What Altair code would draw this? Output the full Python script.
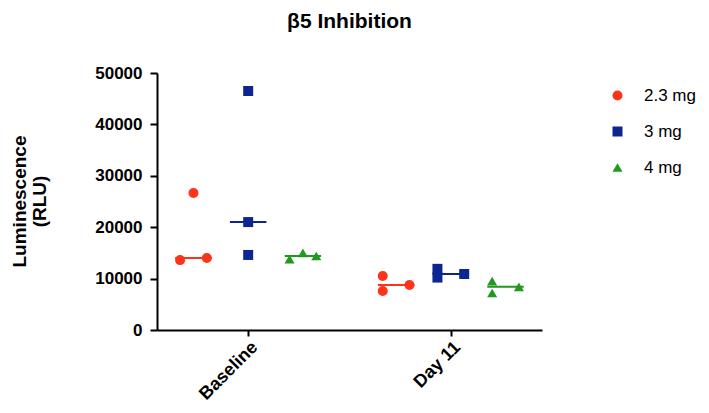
import altair as alt
import pandas as pd
import numpy as np

# ---- data ----
timepoints = ["Baseline", "Day 11"]
doses = ["2.3 mg", "3 mg", "4 mg"]
colors = ["#FF3319", "#0C2590", "#1F991F"]
shapes = ["circle", "square", "triangle-up"]

baseline_23 = [26650, 13600, 14000]
baseline_3 = [46500, 21000, 14600]
baseline_4 = [13800, 15000, 14400]
day11_23 = [10500, 7600, 8750]
day11_3 = [11900, 10200, 10900]
day11_4 = [9500, 7200, 8400]

# horizontal scatter slot of each replicate within its column (-1, 0, +1)
baseline_23_slot = [0, -1, 1]
baseline_3_slot = [0, 0, 0]
baseline_4_slot = [-1, 0, 1]
day11_23_slot = [-1, -1, 1]
day11_3_slot = [-1, -1, 1]
day11_4_slot = [-1, -1, 1]

series = [
    ("Baseline", "2.3 mg", baseline_23, baseline_23_slot),
    ("Baseline", "3 mg", baseline_3, baseline_3_slot),
    ("Baseline", "4 mg", baseline_4, baseline_4_slot),
    ("Day 11", "2.3 mg", day11_23, day11_23_slot),
    ("Day 11", "3 mg", day11_3, day11_3_slot),
    ("Day 11", "4 mg", day11_4, day11_4_slot),
]

DOSE_SHIFT = 0.27
SLOT_STEP = 0.066
HALF_MED = 0.09

rows, med_rows = [], []
for tp, dose, vals, slots in series:
    center = timepoints.index(tp) + 1 + (doses.index(dose) - 1) * DOSE_SHIFT
    for v, s in zip(vals, slots):
        rows.append({"time": tp, "dose": dose, "value": v, "pos": center + s * SLOT_STEP})
    med_rows.append({"time": tp, "dose": dose, "median": float(np.median(vals)),
                     "x1": center - HALF_MED, "x2": center + HALF_MED})

df = pd.DataFrame(rows)
med = pd.DataFrame(med_rows)

FONT = "Liberation Sans"

xscale = alt.Scale(domain=[0.55, 2.45], nice=False, zero=False)
yscale = alt.Scale(domain=[0, 50000], nice=False)
color_scale = alt.Scale(domain=doses, range=colors)
shape_scale = alt.Scale(domain=doses, range=shapes)

x_axis = alt.Axis(
    values=[1, 2], title=None, grid=False,
    labelExpr="datum.value == 1 ? 'Baseline' : 'Day 11'",
    labelAngle=-45, labelAlign="right", labelBaseline="top",
    labelFont=FONT, labelFontSize=18, labelFontWeight="bold", labelColor="black",
    labelPadding=2,
    domainColor="black", domainWidth=2, tickColor="black", tickWidth=2, tickSize=6,
)
y_axis = alt.Axis(
    values=[0, 10000, 20000, 30000, 40000, 50000], format="d",
    title=["Luminescence", "(RLU)"], grid=False,
    labelFont=FONT, labelFontSize=17, labelFontWeight="bold", labelColor="black",
    labelPadding=8,
    titleFont=FONT, titleFontSize=19, titleFontWeight="bold", titleColor="black",
    titleAngle=-90, titleAlign="center", titleBaseline="top",
    titleX=-147, titleY=128, titleLineHeight=20,
    domainColor="black", domainWidth=2, tickColor="black", tickWidth=2, tickSize=7,
)

legend = alt.Legend(orient="none", legendX=452, legendY=14,
                    labelFont=FONT, labelFontSize=17, labelColor="black",
                    symbolSize=100, labelOffset=18, rowPadding=18,
                    symbolStrokeWidth=0)

points = alt.Chart(df).mark_point(filled=True, size=100, opacity=1).encode(
    x=alt.X("pos:Q", scale=xscale, axis=x_axis),
    y=alt.Y("value:Q", scale=yscale, axis=y_axis),
    color=alt.Color("dose:N", scale=color_scale, title=None, legend=legend),
    shape=alt.Shape("dose:N", scale=shape_scale, title=None, legend=legend),
)

medians = alt.Chart(med).mark_rule(strokeWidth=2).encode(
    x=alt.X("x1:Q", scale=xscale),
    x2="x2:Q",
    y=alt.Y("median:Q", scale=yscale),
    color=alt.Color("dose:N", scale=color_scale, title=None, legend=legend),
)

chart = alt.layer(medians, points).properties(
    width=385, height=257,
    title=alt.TitleParams("β5 Inhibition", font=FONT, fontSize=21, fontWeight="bold",
                          color="black", anchor="middle", frame="group", offset=32),
    autosize=alt.AutoSizeParams(type="none"),
    padding={"left": 149, "top": 65, "right": 159, "bottom": 75},
).configure_view(stroke=None)

chart.save("out.html", embed_options={"renderer": "svg", "actions": False})
